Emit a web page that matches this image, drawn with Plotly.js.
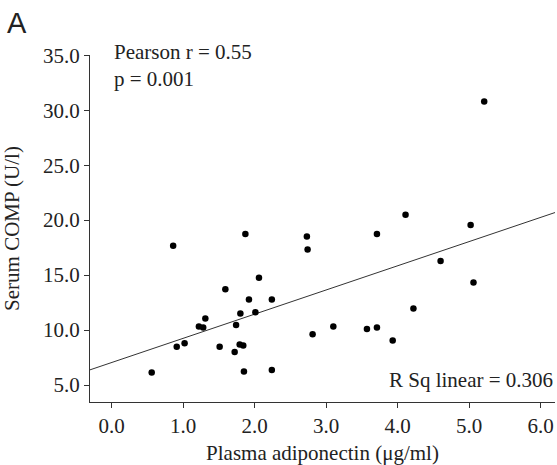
<!DOCTYPE html>
<html>
<head>
<meta charset="utf-8">
<script src="https://cdn.plot.ly/plotly-3.0.1.min.js"></script>
<style>html,body{margin:0;padding:0;background:#fff;}#chart{width:557px;height:465px;}</style>
</head>
<body>
<div id="chart"></div>
<script>
// Plasma adiponectin (µg/ml)
const adiponectin = [0.86, 1.87, 2.06, 1.59, 1.92, 2.24, 2.01, 1.80, 1.31, 1.22, 1.28, 1.74,
  0.91, 1.02, 1.51, 1.79, 1.84, 1.72, 0.56, 1.85, 2.24,
  2.73, 2.74, 3.71, 2.81, 3.10, 3.57, 3.71, 3.93,
  4.11, 5.02, 4.60, 5.06, 4.22, 5.21];
// Serum COMP (U/l)
const comp = [17.68, 18.74, 14.75, 13.72, 12.77, 12.77, 11.63, 11.50, 11.05, 10.32, 10.23, 10.45,
  8.48, 8.81, 8.48, 8.69, 8.60, 8.00, 6.14, 6.24, 6.36,
  18.50, 17.32, 18.74, 9.63, 10.32, 10.09, 10.23, 9.05,
  20.50, 19.56, 16.29, 14.32, 11.96, 30.78];
// Linear fit line end points
const fitX = [-0.303, 6.2];
const fitY = [6.38, 20.69];

const xTicks = [0, 1, 2, 3, 4, 5, 6];
const xTickLabels = ["0.0", "1.0", "2.0", "3.0", "4.0", "5.0", "6.0"];
const yTicks = [5, 10, 15, 20, 25, 30, 35];
const yTickLabels = ["5.0", "10.0", "15.0", "20.0", "25.0", "30.0", "35.0"];

const serif = '"Liberation Serif", "Times New Roman", serif';
const fs = 21;

const traces = [
  {
    x: fitX, y: fitY, type: 'scatter', mode: 'lines',
    line: {color: '#333333', width: 1}, hoverinfo: 'skip', cliponaxis: true
  },
  {
    x: adiponectin, y: comp, type: 'scatter', mode: 'markers',
    marker: {color: '#000000', size: 6.5, line: {width: 0}}, cliponaxis: false
  }
];

const layout = {
  width: 557, height: 465,
  margin: {l: 90, r: 2, t: 55, b: 62.7},
  paper_bgcolor: '#ffffff', plot_bgcolor: '#ffffff',
  showlegend: false,
  font: {family: serif, size: fs, color: '#222222'},
  xaxis: {
    range: [-0.303, 6.2], tickmode: 'array', tickvals: xTicks, ticktext: xTickLabels,
    showgrid: false, zeroline: false, showline: true, linecolor: '#333333', linewidth: 1,
    ticks: 'outside', ticklen: 5, tickwidth: 1, tickcolor: '#333333',
    tickfont: {family: serif, size: fs, color: '#222222'},
    title: {text: 'Plasma adiponectin (μg/ml)', font: {family: serif, size: fs, color: '#222222'}, standoff: 8},
    automargin: false
  },
  yaxis: {
    range: [3.456, 35.02], tickmode: 'array', tickvals: yTicks, ticktext: yTickLabels,
    showgrid: false, zeroline: false, showline: true, linecolor: '#333333', linewidth: 1,
    ticks: 'outside', ticklen: 5, tickwidth: 1, tickcolor: '#333333',
    tickfont: {family: serif, size: fs, color: '#222222'},
    title: {text: 'Serum COMP (U/l)', font: {family: serif, size: fs, color: '#222222'}, standoff: 18},
    automargin: false
  },
  annotations: [
    {text: 'Pearson r = 0.55<br>p = 0.001', xref: 'x', yref: 'y', x: 0.0, y: 34.1, xanchor: 'left', yanchor: 'middle',
     align: 'left', showarrow: false, font: {family: serif, size: fs, color: '#222222'}},
    {text: 'R Sq linear = 0.306', xref: 'paper', yref: 'y', x: 1.0, y: 5.48, xanchor: 'right', yanchor: 'middle',
     showarrow: false, font: {family: serif, size: fs, color: '#222222'}},
    {text: 'A', xref: 'paper', yref: 'paper', x: -0.182, y: 1.093, xanchor: 'left', yanchor: 'middle',
     showarrow: false, font: {family: '"Liberation Sans", Arial, sans-serif', size: 29, color: '#222222'}}
  ]
};

Plotly.newPlot('chart', traces, layout, {staticPlot: true, displayModeBar: false});
</script>
</body>
</html>
